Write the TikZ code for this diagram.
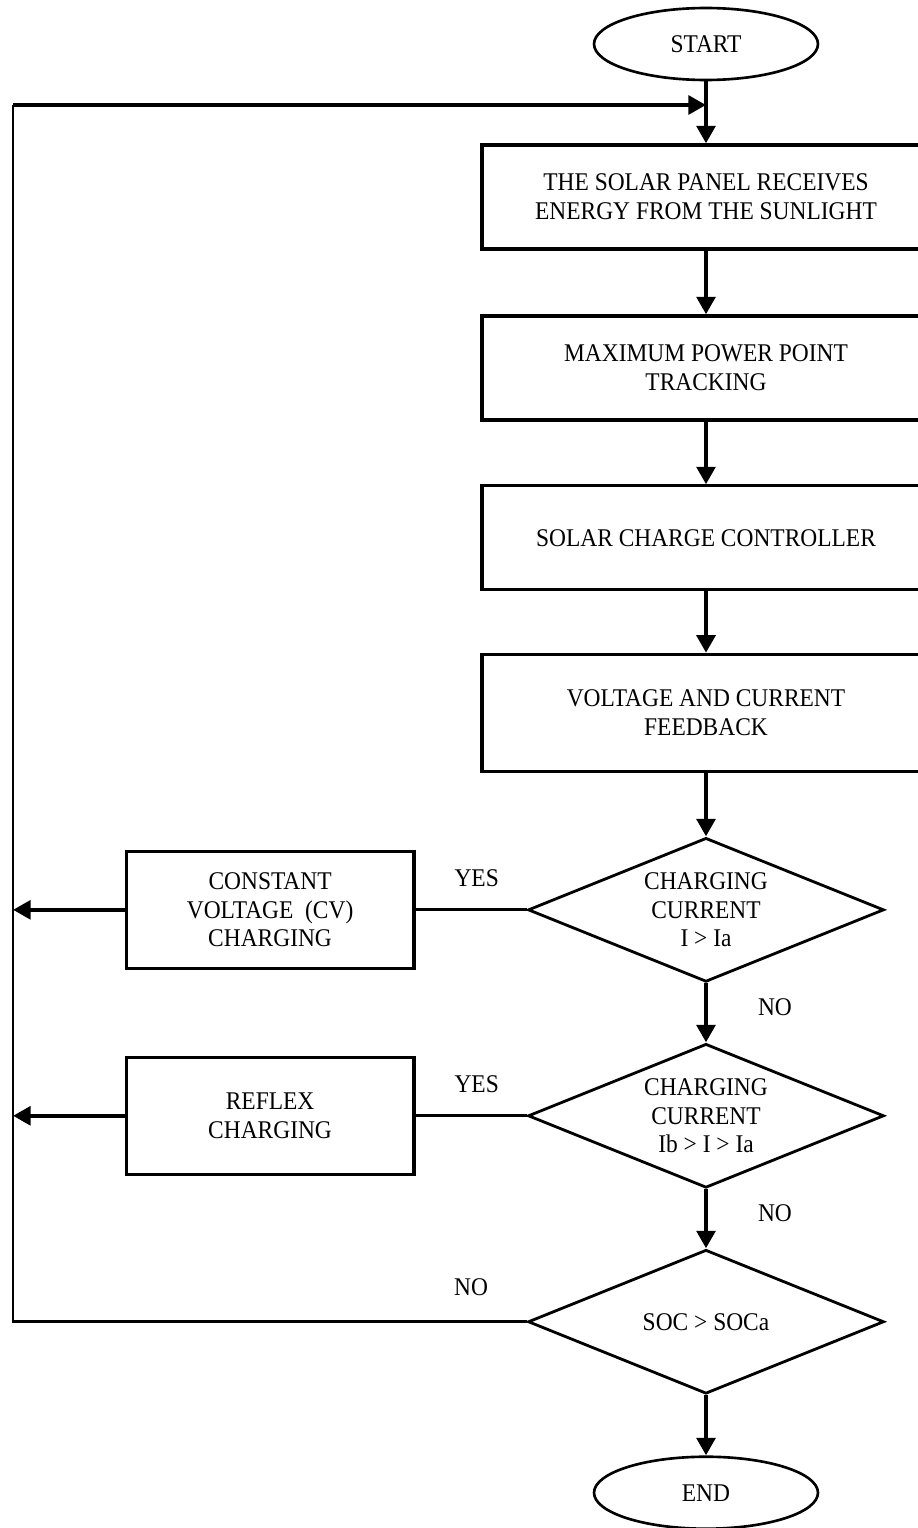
\documentclass[tikz,border=0pt]{standalone}
\usepackage{fontspec}
\setmainfont[FakeStretch=0.92]{Liberation Serif}
\usetikzlibrary{shapes.geometric,arrows.meta,positioning}

\begin{document}
\begin{tikzpicture}[x=0.02cm,y=0.02cm,>={Triangle[length=10pt,width=10.5pt]},
                    font=\fontsize{14.5}{16.4}\selectfont,
                    block/.style={rectangle,draw,line width=1.8pt,align=center,minimum width=8.96cm,minimum height=2.08cm},
                    side/.style={block,minimum width=5.76cm,minimum height=2.34cm},
                    decision/.style={diamond,draw,line width=1.6pt,align=center,aspect=2.47,inner sep=0pt,minimum width=7.12cm,minimum height=2.88cm},
                    terminal/.style={ellipse,draw,line width=1.5pt,minimum width=4.48cm,minimum height=1.44cm},
                    flow/.style={->,line width=2.6pt}]
  \useasboundingbox (0,0) rectangle (918,-1528);
  \node[terminal] (start) at (706,-44) {START};
  \node[block] (sun) [node distance=3.06cm, below of=start] {THE SOLAR PANEL RECEIVES\\ENERGY FROM THE SUNLIGHT};
  \node[block] (mppt) [node distance=3.42cm, below of=sun] {MAXIMUM POWER POINT\\TRACKING};
  \node[block] (scc) [node distance=3.4cm, below of=mppt] {SOLAR CHARGE CONTROLLER};
  \node[block, minimum height=2.34cm] (fb) [node distance=3.5cm, below of=scc] {VOLTAGE AND CURRENT\\FEEDBACK};
  \node[decision] (cur1) [node distance=3.94cm, below of=fb] {CHARGING\\CURRENT\\I > Ia};
  \node[decision] (cur2) [node distance=4.12cm, below of=cur1] {CHARGING\\CURRENT\\Ib > I > Ia};
  \node[decision] (soc) [node distance=4.12cm, below of=cur2] {SOC > SOCa};
  \node[terminal] (end) [node distance=3.42cm, below of=soc] {END};
  \node[side] (cv) [node distance=8.72cm, left of=cur1] {CONSTANT\\VOLTAGE\ \ (CV)\\CHARGING};
  \node[side] (reflex) [node distance=8.72cm, left of=cur2] {REFLEX\\CHARGING};
  \coordinate (corner) at (13,-105);
  \coordinate (join) at (start |- corner);
  \path[flow]
    (start) edge (sun)
    (sun) edge (mppt)
    (mppt) edge (scc)
    (scc) edge (fb)
    (fb) edge (cur1)
    (cur1) edge node[pos=0.4, right=25pt] {NO} (cur2)
    (cur2) edge node[pos=0.4, right=25pt] {NO} (soc)
    (soc) edge (end);
  \path[line width=1.8pt]
    (cur1.west) edge node[pos=0.45, above=9pt] {YES} (cv)
    (cur2.west) edge node[pos=0.45, above=9pt] {YES} (reflex);
  \draw[flow] (cv) -- (cv -| corner);
  \draw[flow] (reflex) -- (reflex -| corner);
  \draw[line width=1.5pt] (soc.west) -| node[pos=0.054, above=11pt] {NO} (corner);
  \draw[flow, line width=2.8pt] (corner) -- (join);
\end{tikzpicture}
\end{document}
